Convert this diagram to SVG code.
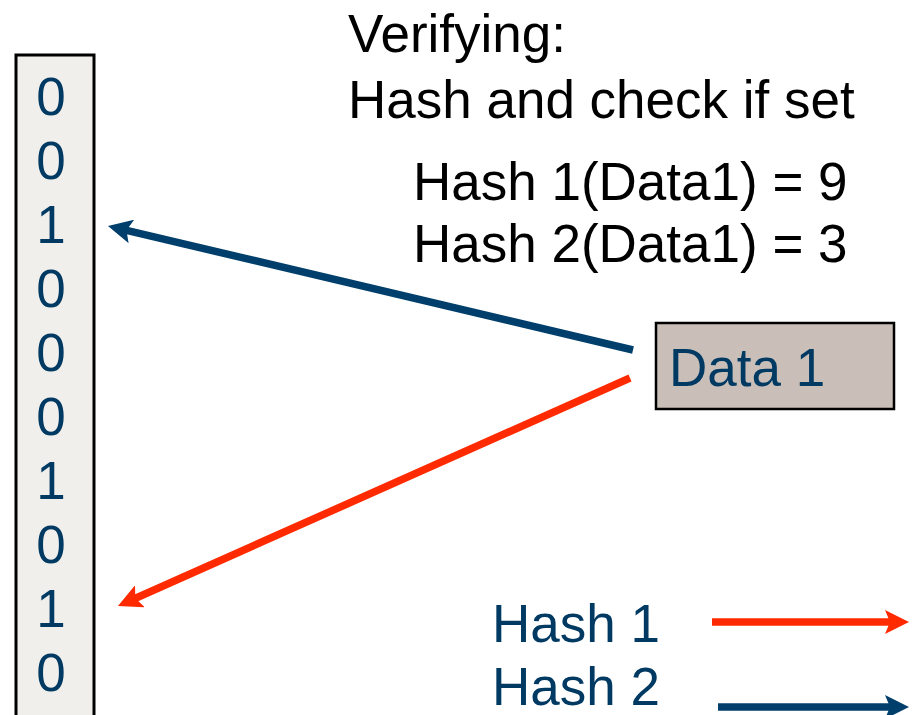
<svg xmlns="http://www.w3.org/2000/svg" width="917" height="715" viewBox="0 0 917 715">
  <style>
    .txt { font-family: "Liberation Sans", Arial, sans-serif; font-size: 53px; }
    .black { fill: #000000; }
    .navy { fill: #003a63; }
    .bit { font-family: "Liberation Sans", Arial, sans-serif; font-size: 53px; fill: #003a63; text-anchor: middle; }
    .h1 { stroke: #ff2a00; stroke-width: 7.5; fill: none; }
    .h2 { stroke: #003f6b; stroke-width: 7.5; fill: none; }
  </style>
  <defs>
    <marker id="arrowRed" markerUnits="userSpaceOnUse" viewBox="0 0 24 24" refX="6" refY="12" markerWidth="24" markerHeight="24" orient="auto">
      <path d="M24 12 L0 0 L5 12 L0 24 Z" fill="#ff2a00"/>
    </marker>
    <marker id="arrowBlue" markerUnits="userSpaceOnUse" viewBox="0 0 24 24" refX="6" refY="12" markerWidth="24" markerHeight="24" orient="auto">
      <path d="M24 12 L0 0 L5 12 L0 24 Z" fill="#003f6b"/>
    </marker>
  </defs>

  <rect width="917" height="715" fill="#ffffff"/>

  <!-- bit array -->
  <g id="bit-array">
    <rect x="16" y="55" width="78" height="700" fill="#f0efec" stroke="#000000" stroke-width="3"/>
    <text class="bit" x="51" y="115">0</text>
    <text class="bit" x="51" y="179">0</text>
    <text class="bit" x="51" y="243">1</text>
    <text class="bit" x="51" y="307">0</text>
    <text class="bit" x="51" y="371">0</text>
    <text class="bit" x="51" y="435">0</text>
    <text class="bit" x="51" y="499">1</text>
    <text class="bit" x="51" y="563">0</text>
    <text class="bit" x="51" y="627">1</text>
    <text class="bit" x="51" y="691">0</text>
  </g>

  <!-- heading -->
  <g id="heading">
    <text class="txt black" x="348" y="52">Verifying:</text>
    <text class="txt black" x="348" y="118">Hash and check if set</text>
    <text class="txt black" x="413" y="200">Hash 1(Data1) = 9</text>
    <text class="txt black" x="413" y="262">Hash 2(Data1) = 3</text>
  </g>

  <!-- data item -->
  <g id="data1">
    <rect x="656" y="323" width="238" height="86" fill="#c9bfb8" stroke="#000000" stroke-width="2.5"/>
    <text class="txt navy" x="669" y="386">Data 1</text>
  </g>

  <!-- legend -->
  <g id="legend">
    <text class="txt navy" x="492" y="642">Hash 1</text>
    <text class="txt navy" x="492" y="705">Hash 2</text>
  </g>

  <!-- connectors -->
  <g id="connectors">
    <line class="h2" x1="633" y1="350" x2="125.5" y2="230.1" marker-end="url(#arrowBlue)"/>
    <line class="h1" x1="630" y1="378" x2="134.4" y2="598.7" marker-end="url(#arrowRed)"/>
    <line class="h1" x1="712" y1="622" x2="891" y2="622" marker-end="url(#arrowRed)"/>
    <line class="h2" x1="718" y1="707" x2="891" y2="707" marker-end="url(#arrowBlue)"/>
  </g>
</svg>
